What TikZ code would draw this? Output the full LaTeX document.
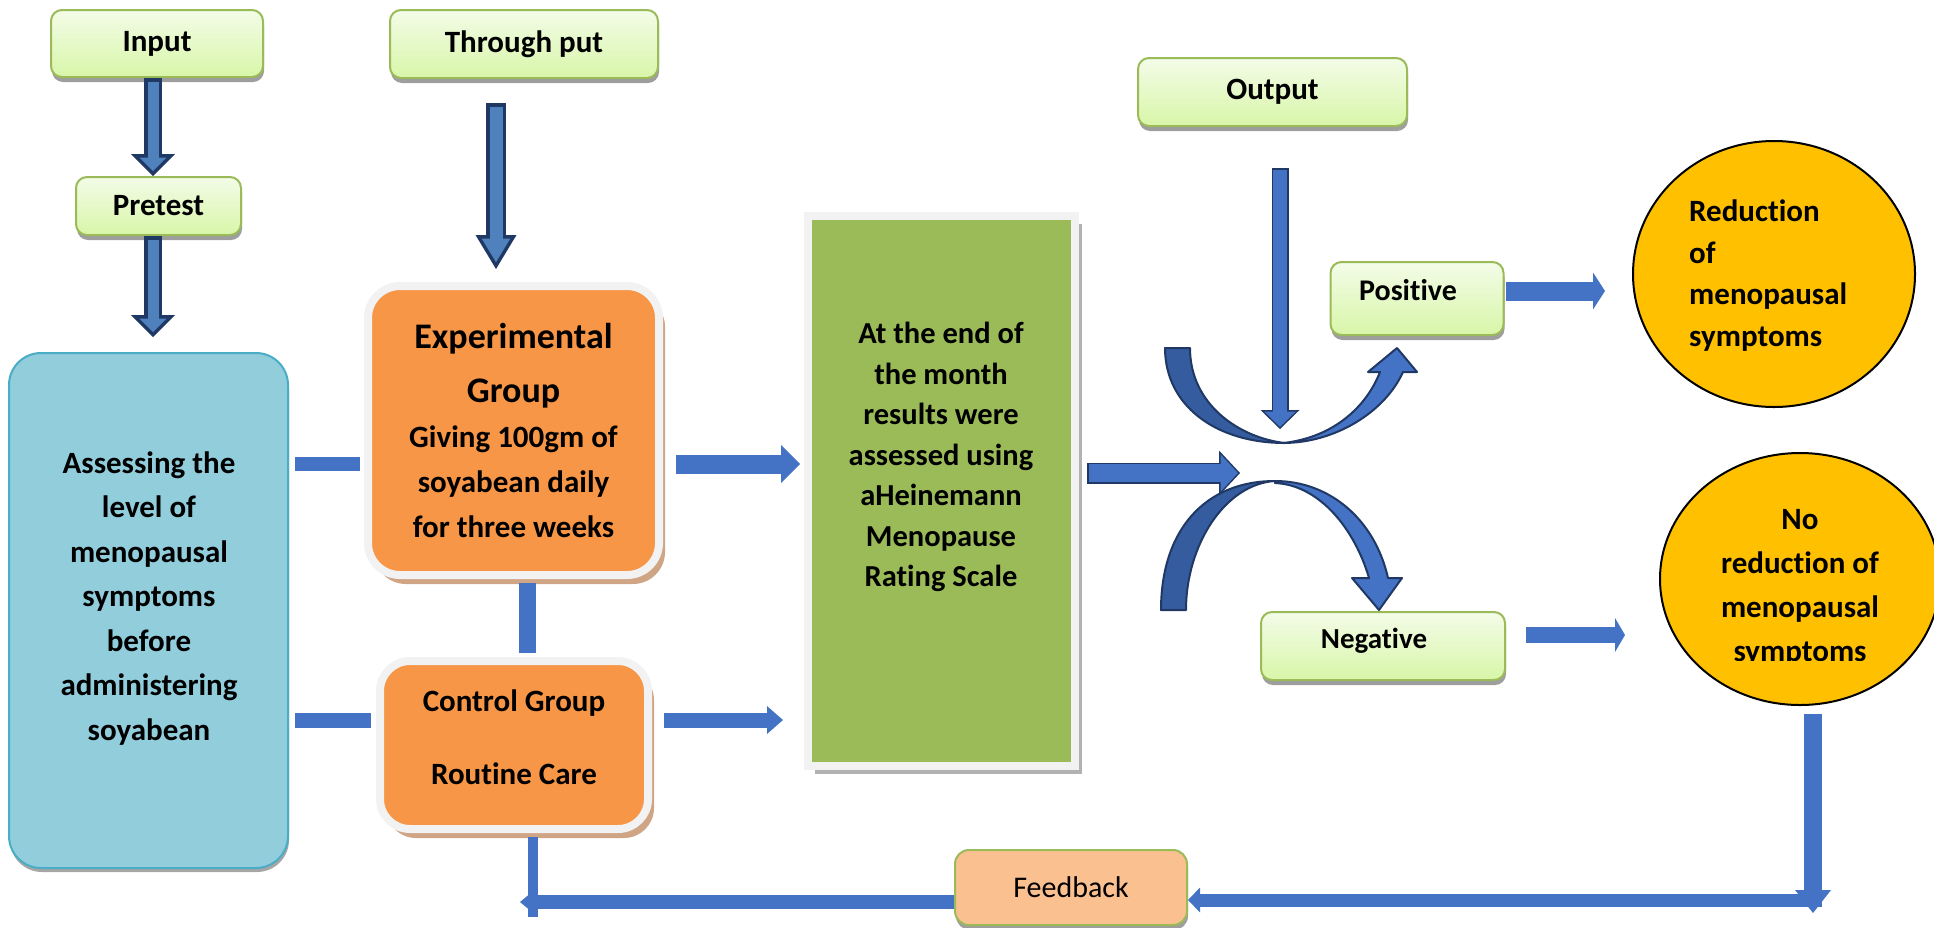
\documentclass[tikz,border=0pt]{standalone}
\usepackage{fontspec}
\setmainfont{Carlito}[Ligatures=NoCommon]
\usetikzlibrary{arrows.meta,positioning,calc,shapes.geometric,shadows}

\definecolor{arrblue}{HTML}{4472C4}
\definecolor{arrsteel}{HTML}{4F81BD}
\definecolor{arrnavy}{HTML}{1F3864}
\definecolor{arrdark}{HTML}{355C9E}
\definecolor{leaftop}{HTML}{F3FCE8}
\definecolor{leafbot}{HTML}{D8F6A8}
\definecolor{leafline}{HTML}{9BBB59}
\definecolor{grpfill}{HTML}{F79646}
\definecolor{grpedge}{HTML}{F2F2F2}
\definecolor{grpshade}{HTML}{CFA585}
\definecolor{skyfill}{HTML}{92CDDC}
\definecolor{skyline}{HTML}{4BACC6}
\definecolor{goldfill}{HTML}{FFC000}
\definecolor{fbfill}{HTML}{FAC090}

\begin{document}
\begin{tikzpicture}[
  x=1pt, y=-1pt,
  txt/.style={align=center, inner sep=0pt,
              font=\bfseries\fontsize{31}{44.5}\selectfont},
  leaf/.style={draw=leafline, line width=2pt, rounded corners=11pt,
               top color=leaftop, bottom color=leafbot, inner sep=0pt,
               font=\bfseries\fontsize{31}{37}\selectfont,
               drop shadow={shadow xshift=1pt, shadow yshift=-5pt,
                            fill=black!38, opacity=1}},
  fbk/.style={draw=leafline, line width=2pt, rounded corners=14pt,
              fill=fbfill, inner sep=0pt, font=\fontsize{30}{36}\selectfont,
              drop shadow={shadow xshift=1pt, shadow yshift=-5pt,
                           fill=black!38, opacity=1}},
  grp/.style={draw=grpedge, line width=8pt, fill=grpfill, rounded corners=32pt,
              drop shadow={shadow xshift=6pt, shadow yshift=-9pt,
                           fill=grpshade, opacity=1}},
  slab/.style={draw=grpedge, line width=8pt, fill=leafline,
               drop shadow={shadow xshift=7pt, shadow yshift=-8pt,
                            fill=black!30, opacity=1}},
  sky/.style={draw=skyline, line width=2pt, fill=skyfill, rounded corners=32pt,
              drop shadow={shadow xshift=1pt, shadow yshift=-4pt,
                           fill=black!35, opacity=1}},
  gold/.style={ellipse, draw=black, line width=2pt, fill=goldfill, inner sep=0pt},
  flat/.style={draw=arrblue},
  rim/.style={draw=arrnavy},
  core/.style={draw=arrsteel},
  curlarrow/.style={draw=arrnavy, line width=2pt, line join=round}]

\useasboundingbox (0,0) rectangle (1934,927);

% lanes and levels the connectors run along
\coordinate (lane) at (153,0);
\coordinate (lane2) at (496,0);
\coordinate (lvA) at (0,464);
\coordinate (lvB) at (0,720);
\coordinate (lvP) at (0,291);
\coordinate (lvN) at (0,635);
\coordinate (hub) at (1280,429);
\coordinate (hubw) at (1240,473);
\coordinate (turn) at (1813,913);
\coordinate (fbr) at (1822,900);
\coordinate (fbl) at (520,902);
\coordinate (drop) at (532.5,917);

% ---------------------------------------------------------------- boxes ---
\node[leaf, minimum width=212pt, minimum height=67pt] (inp) at (157,43.5) {Input};
\node[leaf, minimum width=268pt, minimum height=68pt] (thr) at (524,44) {Through put};
\node[leaf, minimum width=165pt, minimum height=58pt] (pre) at (158.5,206) {Pretest};
\node[leaf, minimum width=269pt, minimum height=68pt] (out) at (1272.5,92) {Output};

\node[sky, minimum width=279pt, minimum height=515pt] (asm) at (148.5,610.5) {};
\node[txt] (asmtxt) at (149,598.5)
      {Assessing the\\level of\\menopausal\\symptoms\\before\\administering\\soyabean};

\node[grp, txt, minimum width=291pt, minimum height=289pt,
      font=\bfseries\fontsize{31}{45}\selectfont] (exp) at (513.5,430.5)
      {{\fontsize{36}{54}\selectfont Experimental}\\[9pt]
       {\fontsize{36}{54}\selectfont Group}\\
       Giving 100gm of\\soyabean daily\\for three weeks};

\node[grp, rounded corners=30pt, minimum width=268pt, minimum height=168pt]
      (ctl) at (514,745) {};
\node[txt] (ctltxt) at (514,737) {Control Group\\[28.5pt]Routine Care};

\node[slab, minimum width=267pt, minimum height=550pt] (grn) at (941.5,491) {};
\node[txt, font=\bfseries\fontsize{30.5}{40.5}\selectfont] (grntxt) at (941,457)
      {At the end of\\the month\\results were\\assessed using\\aHeinemann\\Menopause\\Rating Scale};

\node[leaf, minimum width=173pt, minimum height=73pt] (pos) at (1417,298.5) {};
\node[txt, font=\bfseries\fontsize{30}{36}\selectfont] (postxt) at (1408,290) {Positive};
\node[leaf, minimum width=244pt, minimum height=68pt] (neg) at (1383,646) {};
\node[txt, font=\bfseries\fontsize{29}{36}\selectfont] (negtxt) at (1374,641) {Negative};

\node[gold, minimum width=282pt, minimum height=266pt] (red) at (1774,274) {};
\node[txt, align=left, anchor=west, font=\bfseries\fontsize{31}{41.7}\selectfont]
      (redtxt) at (1689,275.5) {Reduction\\of\\menopausal\\symptoms};
\node[gold, minimum width=280pt, minimum height=252pt] (nored) at (1800,579) {};
\begin{scope}
  \clip (1650,440) rectangle (1934,660.5);
  \node[txt, font=\bfseries\fontsize{31}{44}\selectfont] (noredtxt) at (1800,587.5)
        {No\\reduction of\\menopausal\\symptoms};
\end{scope}

\node[fbk, minimum width=232pt, minimum height=75pt] (fb) at (1071,887.5) {Feedback};

% ------------------------------------------------ bends at the split point ---
\draw[curlarrow, fill=arrdark] (1165,348) .. controls (1165,405) and (1215,443) .. (1285,443)
      .. controls (1240,438) and (1190,405) .. (1190,348) -- cycle;
\draw[curlarrow, fill=arrblue] (1283,443) .. controls (1335,443) and (1385,412) .. (1403,372)
      -- (1417,372) -- (1397,348) -- (1368,372) -- (1380,372)
      .. controls (1365,410) and (1330,438) .. (1283,443) -- cycle;
\draw[curlarrow, fill=arrdark] (1161,610) .. controls (1161,530) and (1205,481) .. (1275,481)
      .. controls (1225,484) and (1186,545) .. (1186,610) -- cycle;
\draw[curlarrow, fill=arrblue] (1275,481) .. controls (1330,481) and (1375,520) .. (1388,578)
      -- (1402,578) -- (1379,610) -- (1352,578) -- (1369,578)
      .. controls (1355,530) and (1320,485) .. (1275,483) -- cycle;

% ------------------------------------------------------ outlined arrows ---
\draw[rim, line width=18pt, -{Triangle[length=22pt, width=44pt, line width=0pt]}]
      (lane |- inp.south) -- (lane |- pre.north);
\draw[core, line width=11pt, shorten <=3.5pt, shorten >=5pt,
      -{Triangle[length=13.5pt, width=27pt, line width=0pt]}]
      (lane |- inp.south) -- (lane |- pre.north);

\draw[rim, line width=18pt, shorten >=15pt,
      -{Triangle[length=22pt, width=44pt, line width=0pt]}]
      (lane |- pre.south) -- (lane |- asm.north);
\draw[core, line width=11pt, shorten <=3.5pt, shorten >=20pt,
      -{Triangle[length=13.5pt, width=27pt, line width=0pt]}]
      (lane |- pre.south) -- (lane |- asm.north);

\draw[rim, line width=20pt, shorten <=24pt, shorten >=13pt,
      -{Triangle[length=34pt, width=41pt, line width=0pt]}]
      (lane2 |- thr.south) -- (lane2 |- exp.north);
\draw[core, line width=13pt, shorten <=27.5pt, shorten >=19.8pt,
      -{Triangle[length=23.7pt, width=28.6pt, line width=0pt]}]
      (lane2 |- thr.south) -- (lane2 |- exp.north);

\draw[rim, line width=17pt, shorten <=41pt,
      -{Triangle[length=19pt, width=39pt, line width=0pt]}]
      (hub |- out.south) -- (hub);
\draw[flat, line width=14pt, shorten <=42.5pt, shorten >=2.1pt,
      -{Triangle[length=15.4pt, width=31.6pt, line width=0pt]}]
      (hub |- out.south) -- (hub);

\draw[rim, line width=21pt, shorten <=8pt,
      -{Triangle[length=21pt, width=45pt, line width=0pt]}]
      (grn.east |- hubw) -- (hubw);
\draw[flat, line width=18pt, shorten <=9.5pt, shorten >=2.05pt,
      -{Triangle[length=17.45pt, width=37.4pt, line width=0pt]}]
      (grn.east |- hubw) -- (hubw);

% --------------------------------------------------------- flat arrows ---
\draw[flat, line width=14pt, shorten <=6pt, shorten >=4pt] (asm.east |- lvA) -- (exp.west |- lvA);
\draw[flat, line width=15pt, shorten <=6pt, shorten >=5pt] (asm.east |- lvB) -- (ctl.west |- lvB);
\draw[flat, line width=17pt, shorten <=4pt, shorten >=4pt]
      ([xshift=14pt]exp.south) -- ([xshift=14pt]exp.south |- ctl.north);
\draw[flat, line width=19pt, shorten <=13pt, shorten >=4pt,
      -{Triangle[length=19pt, width=38pt, line width=0pt]}] (exp.east |- lvA) -- (grn.west |- lvA);
\draw[flat, line width=15pt, shorten <=12pt, shorten >=21pt,
      -{Triangle[length=16pt, width=28pt, line width=0pt]}] (ctl.east |- lvB) -- (grn.west |- lvB);
\draw[flat, line width=19pt, shorten <=1pt, shorten >=27pt,
      -{Triangle[length=12pt, width=37pt, line width=0pt]}] (pos.east |- lvP) -- (red.west |- lvP);
\draw[flat, line width=16pt, shorten <=20pt, shorten >=34pt,
      -{Triangle[length=10pt, width=34pt, line width=0pt]}] (neg.east |- lvN) -- (nored.west |- lvN);

% the loop back through feedback
\draw[flat, line width=18pt, shorten <=8pt,
      -{Triangle[length=23pt, width=36pt, line width=0pt]}] (turn |- nored.south) -- (turn);
\draw[flat, line width=13pt,
      -{Triangle[length=12pt, width=25pt, line width=0pt]}] (fbr) -- (fb.east |- fbr);
\draw[flat, line width=10pt, shorten <=4pt] (ctl.south -| drop) -- (drop);
\draw[flat, line width=14pt,
      -{Triangle[length=12pt, width=20pt, line width=0pt]}] (fb.west |- fbl) -- (fbl);

\end{tikzpicture}
\end{document}
